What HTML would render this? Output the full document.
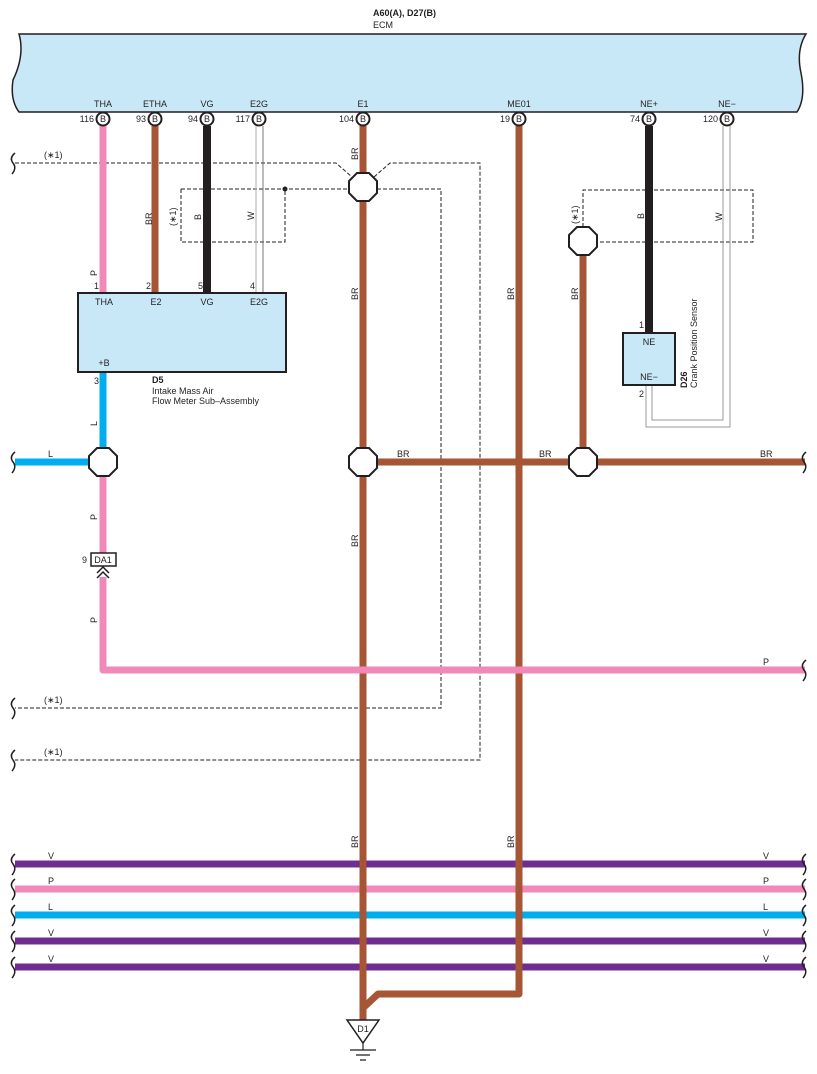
<!DOCTYPE html>
<html><head><meta charset="utf-8"><style>
html,body{margin:0;padding:0;background:#fff}
svg{display:block}
text{font-family:"Liberation Sans",sans-serif;font-size:9px;fill:#231f20}
</style></head><body>
<svg width="817" height="1074" viewBox="0 0 817 1074" xmlns="http://www.w3.org/2000/svg">
<!-- ECM -->
<text x="373" y="16" style="font-weight:bold">A60(A), D27(B)</text>
<text x="373" y="28">ECM</text>
<path d="M19,34 L806,34 Q796,50 801,73 Q806,98 797,112 L19,112 Q10,100 13,80 Q25,55 19,34 Z" fill="#c8e8f8" stroke="#231f20" stroke-width="1.5"/>
<g text-anchor="middle">
<text x="103" y="107">THA</text><text x="155" y="107">ETHA</text><text x="207" y="107">VG</text><text x="259" y="107">E2G</text>
<text x="363" y="107">E1</text><text x="519" y="107">ME01</text><text x="649" y="107">NE+</text><text x="727" y="107">NE−</text>
</g>
<g text-anchor="end">
<text x="94" y="122">116</text><text x="146" y="122">93</text><text x="198" y="122">94</text><text x="250" y="122">117</text>
<text x="354" y="122">104</text><text x="510" y="122">19</text><text x="640" y="122">74</text><text x="718" y="122">120</text>
</g>
<!-- dashed shields -->
<g fill="none" stroke="#231f20" stroke-width="1" stroke-dasharray="4,2">
<path d="M15,163 L336,163 L352,177"/>
<path d="M374,177 L390,163 L480,163 L480,760 L15,760"/>
<path d="M181,189 L349,189"/>
<path d="M181,189 L181,242 L285,242 L285,189"/>
<path d="M377,189 L441,189 L441,708 L15,708"/>
<path d="M583,227 L583,190 L753,190 L753,242 L597,242"/>
</g>
<circle cx="285" cy="189" r="2.5" fill="#231f20"/>
<!-- wires -->
<g fill="none" stroke-linecap="butt">
<path d="M103,126 L103,293" stroke="#f088b8" stroke-width="7"/>
<path d="M155,126 L155,293" stroke="#a65535" stroke-width="7"/>
<path d="M207,126 L207,293" stroke="#231f20" stroke-width="8"/>
<path d="M256,126 L256,293" stroke="#bbb" stroke-width="1.2"/>
<path d="M263,126 L263,293" stroke="#777" stroke-width="1"/>
<path d="M363,126 L363,1020" stroke="#a65535" stroke-width="7"/>
<path d="M519,126 L519,994 L378,994 L363,1008" stroke="#a65535" stroke-width="7" stroke-linejoin="round"/>
<path d="M649,126 L649,333" stroke="#231f20" stroke-width="8"/>
<path d="M723,126 L723,420 L652,420 L652,385" stroke="#999" stroke-width="1"/>
<path d="M730,126 L730,427 L646,427 L646,385" stroke="#999" stroke-width="1"/>
<path d="M103,372 L103,462" stroke="#00aeef" stroke-width="7"/>
<path d="M15,462 L103,462" stroke="#00aeef" stroke-width="7"/>
<path d="M103,462 L103,553" stroke="#f088b8" stroke-width="7"/>
<path d="M103,577 L103,670 L805,670" stroke="#f088b8" stroke-width="7" stroke-linejoin="round"/>
<path d="M363,462 L805,462" stroke="#a65535" stroke-width="7"/>
<path d="M583,241 L583,462" stroke="#a65535" stroke-width="7"/>
<path d="M15,864 L805,864" stroke="#6f2c91" stroke-width="7"/>
<path d="M15,889 L805,889" stroke="#f088b8" stroke-width="7"/>
<path d="M15,915 L805,915" stroke="#00aeef" stroke-width="7"/>
<path d="M15,941 L805,941" stroke="#6f2c91" stroke-width="7"/>
<path d="M15,967 L805,967" stroke="#6f2c91" stroke-width="7"/>
</g>
<!-- re-draw verticals over buses -->
<path d="M363,840 L363,1020" stroke="#a65535" stroke-width="7"/>
<path d="M519,840 L519,994" stroke="#a65535" stroke-width="7"/>
<!-- pin circles -->
<g fill="#fff" stroke="#231f20" stroke-width="2">
<circle cx="103" cy="119" r="6.5"/><circle cx="155" cy="119" r="6.5"/><circle cx="207" cy="119" r="6.5"/><circle cx="259" cy="119" r="6.5"/>
<circle cx="363" cy="119" r="6.5"/><circle cx="519" cy="119" r="6.5"/><circle cx="649" cy="119" r="6.5"/><circle cx="727" cy="119" r="6.5"/>
</g>
<g text-anchor="middle" style="font-size:8px">
<text x="103" y="122">B</text><text x="155" y="122">B</text><text x="207" y="122">B</text><text x="259" y="122">B</text>
<text x="363" y="122">B</text><text x="519" y="122">B</text><text x="649" y="122">B</text><text x="727" y="122">B</text>
</g>
<!-- octagons -->
<g fill="#fff" stroke="#231f20" stroke-width="2">
<polygon points="-6,-14 6,-14 14,-6 14,6 6,14 -6,14 -14,6 -14,-6" transform="translate(363,187)"/>
<polygon points="-6,-14 6,-14 14,-6 14,6 6,14 -6,14 -14,6 -14,-6" transform="translate(103,462)"/>
<polygon points="-6,-14 6,-14 14,-6 14,6 6,14 -6,14 -14,6 -14,-6" transform="translate(363,462)"/>
<polygon points="-6,-14 6,-14 14,-6 14,6 6,14 -6,14 -14,6 -14,-6" transform="translate(583,462)"/>
<polygon points="-6,-14 6,-14 14,-6 14,6 6,14 -6,14 -14,6 -14,-6" transform="translate(583,241)"/>
</g>
<!-- D5 -->
<rect x="78" y="293" width="208" height="79" fill="#c8e8f8" stroke="#231f20" stroke-width="2"/>
<g text-anchor="middle"><text x="104" y="305">THA</text><text x="156" y="305">E2</text><text x="207" y="305">VG</text><text x="259" y="305">E2G</text><text x="104" y="366">+B</text></g>
<text x="94" y="289">1</text><text x="146" y="289">2</text><text x="198" y="289">5</text><text x="250" y="289">4</text><text x="94" y="384">3</text>
<text x="152" y="383" style="font-weight:bold">D5</text>
<text x="152" y="394">Intake Mass Air</text>
<text x="152" y="404">Flow Meter Sub–Assembly</text>
<!-- DA1 -->
<rect x="91" y="553" width="25" height="13" fill="#fff" stroke="#231f20" stroke-width="1.5"/>
<text x="103" y="563" text-anchor="middle">DA1</text>
<text x="82" y="563">9</text>
<path d="M97,573 L103,567 L109,573 M97,578 L103,572 L109,578" fill="none" stroke="#231f20" stroke-width="1.5"/>
<!-- D26 -->
<rect x="623" y="333" width="52" height="52" fill="#c8e8f8" stroke="#231f20" stroke-width="2"/>
<text x="649" y="345" text-anchor="middle">NE</text><text x="649" y="380" text-anchor="middle">NE−</text>
<text x="639" y="328">1</text><text x="639" y="397">2</text>
<text transform="translate(687,388) rotate(-90)" style="font-weight:bold">D26</text>
<text transform="translate(697,388) rotate(-90)">Crank Position Sensor</text>
<!-- vertical labels -->
<g>
<text transform="translate(97,276) rotate(-90)">P</text>
<text transform="translate(152,225) rotate(-90)">BR</text>
<text transform="translate(176,226) rotate(-90)">(∗1)</text>
<text transform="translate(201,220) rotate(-90)">B</text>
<text transform="translate(254,220) rotate(-90)">W</text>
<text transform="translate(358,160) rotate(-90)">BR</text>
<text transform="translate(358,300) rotate(-90)">BR</text>
<text transform="translate(358,547) rotate(-90)">BR</text>
<text transform="translate(358,848) rotate(-90)">BR</text>
<text transform="translate(514,300) rotate(-90)">BR</text>
<text transform="translate(514,848) rotate(-90)">BR</text>
<text transform="translate(578,300) rotate(-90)">BR</text>
<text transform="translate(578,224) rotate(-90)">(∗1)</text>
<text transform="translate(644,219) rotate(-90)">B</text>
<text transform="translate(722,221) rotate(-90)">W</text>
<text transform="translate(97,426) rotate(-90)">L</text>
<text transform="translate(97,520) rotate(-90)">P</text>
<text transform="translate(97,623) rotate(-90)">P</text>
</g>
<text x="44" y="158">(∗1)</text><text x="44" y="703">(∗1)</text><text x="44" y="755">(∗1)</text>
<text x="48" y="457">L</text><text x="397" y="457">BR</text><text x="539" y="457">BR</text><text x="760" y="457">BR</text>
<text x="763" y="665">P</text>
<text x="48" y="859">V</text><text x="48" y="884">P</text><text x="48" y="910">L</text><text x="48" y="936">V</text><text x="48" y="962">V</text>
<text x="763" y="859">V</text><text x="763" y="884">P</text><text x="763" y="910">L</text><text x="763" y="936">V</text><text x="763" y="962">V</text>
<!-- brackets -->
<g fill="none" stroke="#231f20" stroke-width="1.5">
<path d="M15,153 Q9,158 13,163 Q17,168 12,174"/>
<path d="M15,452 Q9,457 13,462 Q17,467 12,473"/>
<path d="M15,698 Q9,703 13,708 Q17,713 12,719"/>
<path d="M15,750 Q9,755 13,760 Q17,765 12,771"/>
<path d="M15,854 Q9,859 13,864 Q17,869 12,875"/>
<path d="M15,879 Q9,884 13,889 Q17,894 12,900"/>
<path d="M15,905 Q9,910 13,915 Q17,920 12,926"/>
<path d="M15,931 Q9,936 13,941 Q17,946 12,952"/>
<path d="M15,957 Q9,962 13,967 Q17,972 12,978"/>
<path d="M806,452 Q800,457 804,462 Q808,467 803,473"/>
<path d="M806,660 Q800,665 804,670 Q808,675 803,681"/>
<path d="M806,854 Q800,859 804,864 Q808,869 803,875"/>
<path d="M806,879 Q800,884 804,889 Q808,894 803,900"/>
<path d="M806,905 Q800,910 804,915 Q808,920 803,926"/>
<path d="M806,931 Q800,936 804,941 Q808,946 803,952"/>
<path d="M806,957 Q800,962 804,967 Q808,972 803,978"/>
</g>
<!-- ground D1 -->
<polygon points="347,1020 379,1020 363,1043" fill="#fff" stroke="#231f20" stroke-width="1.5"/>
<text x="363" y="1032" text-anchor="middle">D1</text>
<path d="M363,1043 L363,1050 M350,1050 L376,1050 M356,1055 L370,1055 M360,1060 L366,1060" stroke="#231f20" stroke-width="1.2"/>
</svg>
</body></html>
